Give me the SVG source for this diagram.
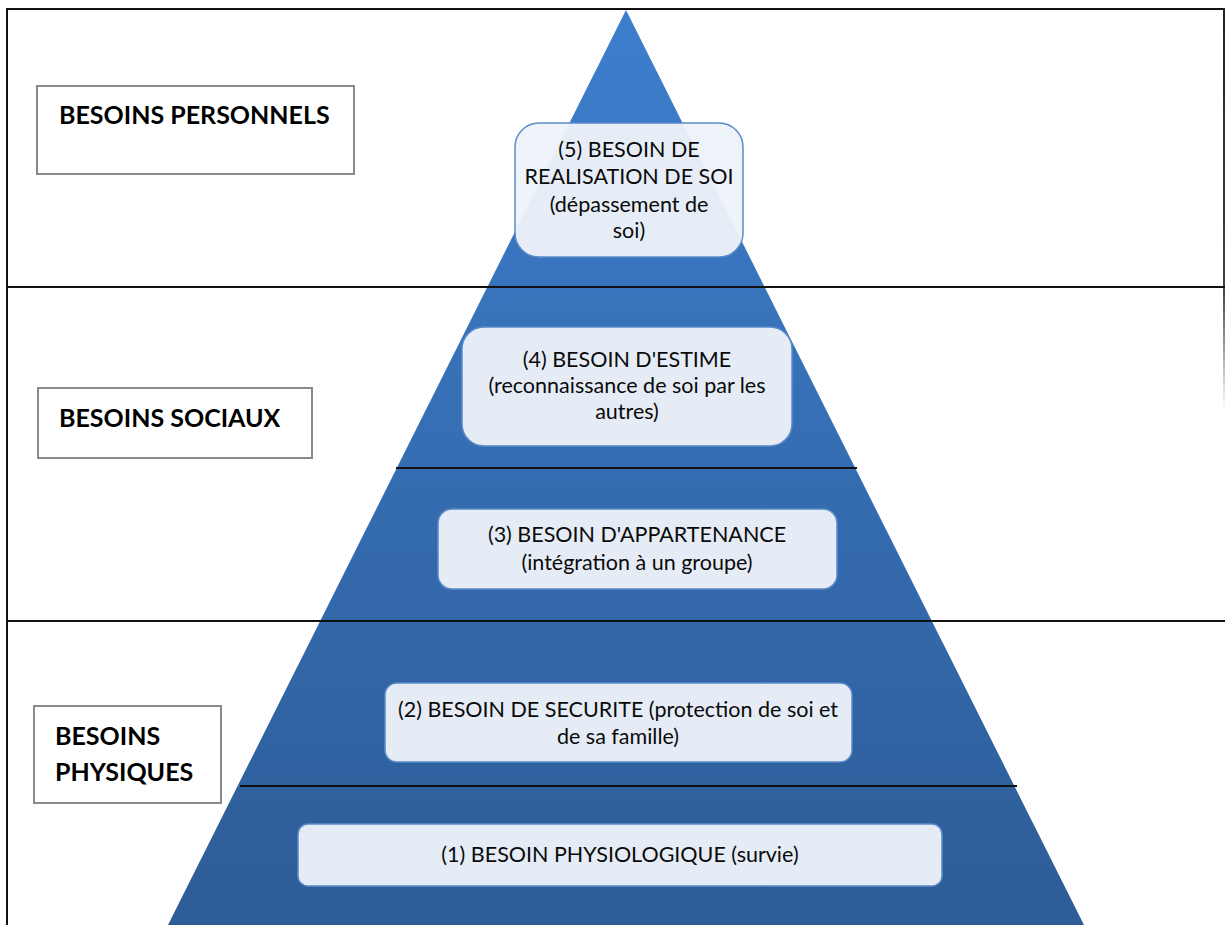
<svg xmlns="http://www.w3.org/2000/svg" width="1225" height="925" viewBox="0 0 1225 925">
<defs>
<linearGradient id="tri" x1="0" y1="10" x2="0" y2="925" gradientUnits="userSpaceOnUse">
<stop offset="0" stop-color="#3D7ECD"/>
<stop offset="1" stop-color="#2D5C97"/>
</linearGradient>
<linearGradient id="rb" x1="0" y1="8" x2="0" y2="410" gradientUnits="userSpaceOnUse">
<stop offset="0" stop-color="#222"/>
<stop offset="0.7" stop-color="#444"/>
<stop offset="1" stop-color="#fff"/>
</linearGradient>
<style>
.lbl{fill:#fff;stroke:#8a8a8a;stroke-width:2}
.lt{font-family:Lato,"Liberation Sans",sans-serif;font-weight:bold;font-size:25px;fill:#000}
.nb{fill:#EDF1F9;fill-opacity:0.96;stroke:#5B8BC9;stroke-width:1.5}
.nt{font-family:Lato,"Liberation Sans",sans-serif;font-size:21.5px;fill:#0a0a0a;text-anchor:middle}
.ln{stroke:#111;stroke-width:2;fill:none}
</style>
</defs>
<rect width="1225" height="925" fill="#fff"/>
<polygon id="pyramid" points="626,10 1084,925 168,925" fill="url(#tri)"/>
<g id="connectors">
<line class="ln" x1="7" y1="9" x2="1224" y2="9"/>
<line class="ln" x1="7" y1="8" x2="7" y2="925"/>
<line x1="1224" y1="8" x2="1224" y2="410" stroke="url(#rb)" stroke-width="2"/>
<line class="ln" x1="7" y1="287" x2="1225" y2="287"/>
<line class="ln" x1="7" y1="621" x2="1225" y2="621"/>
<line class="ln" x1="396" y1="468" x2="857" y2="468"/>
<line class="ln" x1="240" y1="786" x2="1017" y2="786"/>
</g>
<g id="label-personnels">
<rect class="lbl" x="37" y="86" width="317" height="88"/>
<text class="lt" x="59" y="124">BESOINS PERSONNELS</text>
</g>
<g id="label-sociaux">
<rect class="lbl" x="38" y="388" width="274" height="70"/>
<text class="lt" x="59" y="427">BESOINS SOCIAUX</text>
</g>
<g id="label-physiques">
<rect class="lbl" x="34" y="706" width="187" height="97"/>
<text class="lt" x="55" y="745">BESOINS</text>
<text class="lt" x="55" y="781">PHYSIQUES</text>
</g>
<g id="need5">
<rect class="nb" x="515" y="123" width="228" height="134" rx="24"/>
<text class="nt" x="629" y="157">(5) BESOIN DE</text>
<text class="nt" x="629" y="184">REALISATION DE SOI</text>
<text class="nt" x="629" y="212">(dépassement de</text>
<text class="nt" x="629" y="238">soi)</text>
</g>
<g id="need4">
<rect class="nb" x="462" y="327" width="330" height="119" rx="22"/>
<text class="nt" x="627" y="367">(4) BESOIN D'ESTIME</text>
<text class="nt" x="627" y="393">(reconnaissance de soi par les</text>
<text class="nt" x="627" y="419">autres)</text>
</g>
<g id="need3">
<rect class="nb" x="438" y="509" width="399" height="80" rx="14"/>
<text class="nt" x="637" y="542">(3) BESOIN D'APPARTENANCE</text>
<text class="nt" x="637" y="570">(intégration à un groupe)</text>
</g>
<g id="need2">
<rect class="nb" x="385" y="683" width="467" height="79" rx="12"/>
<text class="nt" x="618" y="717">(2) BESOIN DE SECURITE (protection de soi et</text>
<text class="nt" x="618" y="744">de sa famille)</text>
</g>
<g id="need1">
<rect class="nb" x="298" y="824" width="644" height="62" rx="10"/>
<text class="nt" x="620" y="862">(1) BESOIN PHYSIOLOGIQUE (survie)</text>
</g>
</svg>
